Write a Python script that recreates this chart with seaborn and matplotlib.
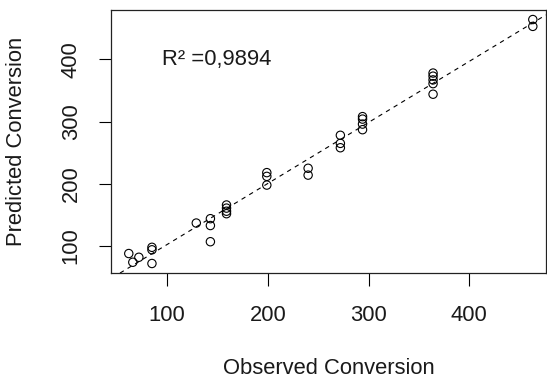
import matplotlib
matplotlib.use("Agg")
import matplotlib.pyplot as plt
import seaborn as sns
import numpy as np
import pandas as pd

observed = [62, 66, 72, 85, 85, 85, 129, 143, 143, 143, 159, 159, 159, 159,
            199, 199, 199, 240, 240, 272, 272, 272, 294, 294, 294, 294,
            364, 364, 364, 364, 364, 463, 463]
predicted = [88, 74, 82, 98, 94, 72, 137, 144, 133, 107, 166, 161, 156, 152,
             218, 212, 198, 225, 214, 278, 265, 258, 308, 304, 296, 287,
             378, 373, 367, 361, 344, 464, 453]
xticks = [100, 200, 300, 400]
yticks = [100, 200, 300, 400]
r2_text = "R² =0,9894"

df = pd.DataFrame({"Observed Conversion": observed, "Predicted Conversion": predicted})

sns.set_theme(style="ticks")
plt.rcParams["font.family"] = ["Liberation Sans", "DejaVu Sans"]

FS = 15.8
fig = plt.figure(figsize=(5.47, 3.83), dpi=100)
ax = fig.add_axes([0.203, 0.287, 0.795, 0.688])

sns.scatterplot(data=df, x="Observed Conversion", y="Predicted Conversion", ax=ax,
                marker="o", s=36, facecolor="none", edgecolor="black", linewidth=0.8)

slope, intercept = np.polyfit(df["Observed Conversion"], df["Predicted Conversion"], 1)
ax.axline((0, intercept), slope=slope, color="black", lw=0.8, ls=(0, (4, 4)))

ax.set_xlim(44.4, 476)
ax.set_ylim(56.6, 480)
ax.set_xticks(xticks)
ax.set_yticks(yticks)
ax.tick_params(axis="both", direction="out", length=9, width=0.8, color="black",
               labelsize=FS, labelcolor="#1a1a1a")
ax.tick_params(axis="x", pad=14)
ax.tick_params(axis="y", pad=12)
for lab in ax.get_yticklabels():
    lab.set_rotation(90)
    lab.set_va("center")
for sp in ax.spines.values():
    sp.set_visible(True)
    sp.set_color("#222222")
    sp.set_linewidth(0.9)

ax.set_xlabel("Observed Conversion", fontsize=FS, color="#1a1a1a")
ax.set_ylabel("Predicted Conversion", fontsize=FS, color="#1a1a1a")
ax.xaxis.label.set_va("center")
ax.yaxis.label.set_va("center")
ax.xaxis.set_label_coords(0.5 - 0.0, -0.364)
ax.yaxis.set_label_coords(-0.218, 0.5 - 0.0)

ax.text(149, 399, r2_text, fontsize=FS, color="#1a1a1a", ha="center", va="center")

fig.savefig("out.png", dpi=100)
